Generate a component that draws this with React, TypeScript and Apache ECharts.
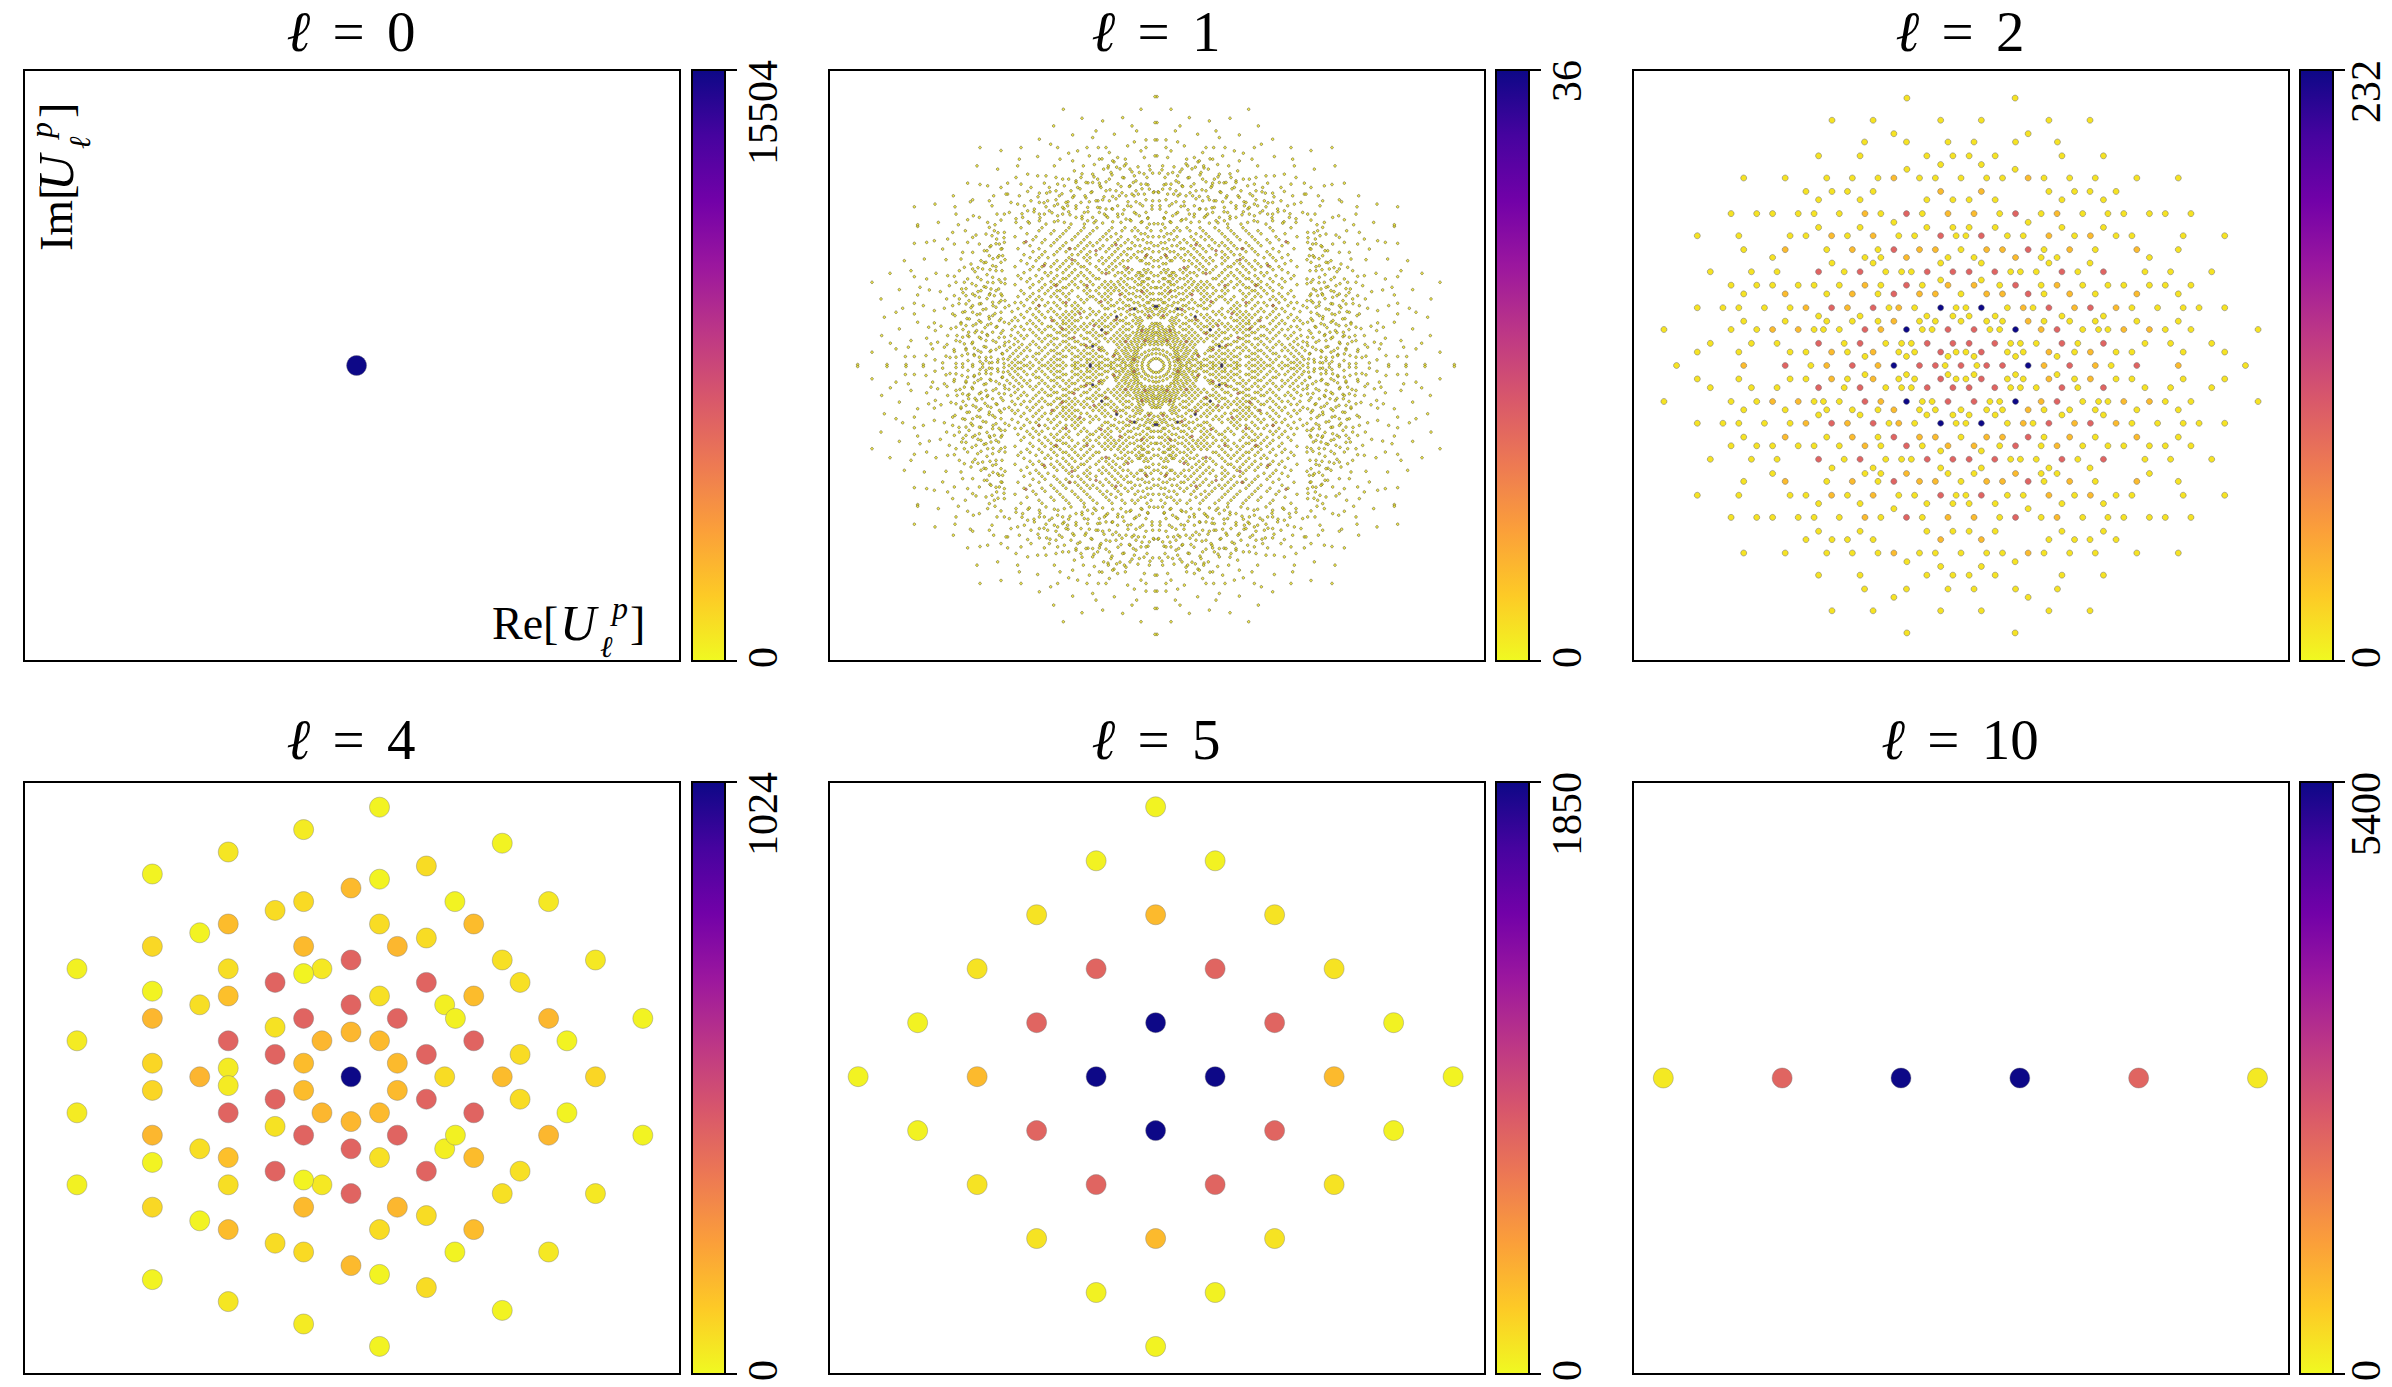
import React, { useEffect, useRef } from "react";
import * as echarts from "echarts";

const FONT = "Liberation Serif";
const plasmaReversed = ["#f0f921","#fdca26","#fb9f3a","#ed7953","#d8576b","#bd3786","#9c179e","#7201a8","#46039f","#0d0887"];

const titles = ["0", "1", "2", "4", "5", "10"];
const barMaxima = [15504, 36, 232, 1024, 1850, 5400];

// l = 0
const l0X = [0.014];
const l0Y = [0];
const l0V = [15504];

// l = 10
const l10X = [-5, -3, -1, 1, 3, 5];
const l10Y = [0, 0, 0, 0, 0, 0];
const l10V = [200, 2160, 5400, 5400, 2160, 200];

// l = 5 : rows of [y, x list, value list]
const l5Rows: [number, number[], number[]][] = [
  [5, [0], [25]],
  [4, [-1, 1], [30, 30]],
  [3, [-2, 0, 2], [95, 280, 95]],
  [2, [-3, -1, 1, 3], [95, 740, 740, 95]],
  [1, [-4, -2, 0, 2, 4], [30, 740, 1850, 740, 30]],
  [0, [-5, -3, -1, 1, 3, 5], [25, 280, 1850, 1850, 280, 25]],
  [-1, [-4, -2, 0, 2, 4], [30, 740, 1850, 740, 30]],
  [-2, [-3, -1, 1, 3], [95, 740, 740, 95]],
  [-3, [-2, 0, 2], [95, 280, 95]],
  [-4, [-1, 1], [30, 30]],
  [-5, [0], [25]],
];

// l = 4 : upper half, mirrored in Im. [Re, Im, value]
const l4Upper: number[][] = [
  [56,674,14],[-93,618,35],[297,584,14],[-241,562,45],[-390,507,14],[148,527,70],[56,494,14],[0,472,155],
  [-93,438,75],[204,438,14],[388,438,40],[-149,416,70],[-297,360,14],[-241,382,150],[56,382,70],[241,382,150],
  [148,347,70],[-93,326,155],[91,326,165],[-390,326,80],[297,292,60],[480,292,40],[0,292,410],[-538,270,20],
  [-241,270,65],[-57,270,40],[-93,258,14],[148,236,410],[-149,236,410],[332,236,60],[-390,214,14],[56,202,60],
  [-241,202,140],[241,202,150],[-297,180,65],[184,180,25],[0,180,410],[-93,146,410],[91,146,410],[-390,146,165],
  [205,146,20],[388,146,165],[573,146,14],[-149,124,55],[0,112,165],[-538,90,35],[-241,90,410],[-57,90,165],
  [56,90,155],[241,90,410],[424,90,14],[332,56,70],[-149,56,410],[148,56,410],[-93,34,150],[91,34,155],
  [-390,34,85],[-241,22,35],
];
const l4Axis: number[][] = [[-297,0,170],[0,0,1024],[184,0,70],[297,0,150],[480,0,85]];

// l = 2 : one quadrant by row. [|Im|, yellow |Re|, orange |Re|, salmon |Re|, blue |Re|]
const l2Rows: [number, number[], number[], number[], number[]][] = [
  [676,[133],[],[],[]],
  [620,[317,216,50],[],[],[]],
  [586,[165],[],[],[]],
  [565,[237,134,32],[],[],[]],
  [530,[350,248,84,20],[],[],[]],
  [508,[50],[],[],[]],
  [496,[133],[],[],[]],
  [474,[534,432,330,267,204,102,63,0],[165],[],[]],
  [440,[381,317,279,216],[50],[],[]],
  [419,[350,248,84,20],[],[],[]],
  [384,[565,502,463,400,361,299,197,95],[236,32],[134],[]],
  [362,[165],[],[],[]],
  [349,[350,248,84,20],[],[],[]],
  [328,[648,546,420,381,279,153,114,12],[318,216],[50],[]],
  [293,[534,330,204,0],[432,267,102,63],[165],[]],
  [273,[463,236,197,32],[134],[],[]],
  [259,[317,216,50],[],[],[]],
  [237,[616,515,452,287,185,146,122],[],[350,248,83,20],[]],
  [216,[50],[],[],[]],
  [203,[565,502,463,400,361,299,197,95],[236,32],[134],[]],
  [181,[534,330,204,0],[432,267,102,63],[165],[]],
  [146,[648,585,546,483,420,177,114,12],[381,279,153],[318,216],[50]],
  [125,[350,248,84,20],[],[],[]],
  [112,[534,432,330,267,204,102,63,0],[165],[],[]],
  [91,[730,565,502,361,338,299,95,71],[463,400,197],[236,32],[134]],
  [56,[616,515,452,287,185,146,122],[],[350,248,83,20],[]],
  [34,[648,546,420,381,279,153,114,12],[318,216],[50],[]],
  [23,[236,134,32],[],[],[]],
  [0,[699,369,39],[534,330,204],[432,267,102,63,0],[165]],
];
const l2Levels = [12, 35, 93, 232];

// l = 1 : one quadrant, in thirds of a reference pixel from the centre.
const l1Rings = [24,0,21,9,15,15,8,20,0,21,42,0,41,9,37,18,31,26,23,31,12,35,0,36,57,0,55,12,51,24,43,33,33,40,21,45,9,48,0,50];
const l1Blue = [197,3,190,58,163,107,118,147,65,170,3,178];
const l1Red = [66,18,126,30,33,75,171,48,90,72,210,60,246,84,150,96,42,105,186,120,282,111,120,138,21,150,228,156,312,135,78,168,165,192,270,189,108,213,42,222,351,180,207,240,300,240,150,276,84,294,252,318,30,330,336,300,180,345,258,351,120,363,390,372];
const l1CoreRows: [number, number[]][] = [
  [0,[72,81,90,108,117,135,144,153,171,180,198,216,225,243,252,270,288,297,315,333,342,369,387,396,423,441]],
  [9,[66,75,93,102,126,135,162,171,189,207,234,243,279,306,324,351,378,405,414,432]],
  [18,[63,72,84,99,111,120,144,153,180,198,207,225,252,288,297,315,342,360,396,423,444]],
  [27,[60,69,78,90,108,129,162,171,189,216,234,243,270,279,306,333,369,387,414,438]],
  [36,[57,66,84,96,114,123,147,180,198,207,225,252,288,297,324,351,360,405,429]],
  [45,[54,63,75,90,102,120,156,165,189,216,234,261,279,306,315,342,378,396,420,447]],
  [54,[45,54,66,81,93,111,162,171,198,207,243,252,270,297,333,351,387,411,438]],
  [63,[6,18,33,42,57,72,84,102,117,180,189,216,225,261,288,306,324,360,378,402,426]],
  [72,[3,15,24,36,51,63,75,93,108,126,144,171,198,234,243,270,279,315,342,369,414,441]],
  [81,[9,21,30,42,54,66,84,99,117,135,153,180,207,216,252,261,297,306,333,351,396,423]],
  [90,[6,15,27,39,48,60,78,90,108,126,162,171,189,225,270,279,315,324,360,387,405,435]],
  [99,[3,12,24,33,45,57,69,99,117,144,153,180,198,207,243,261,288,297,342,369,414]],
  [108,[9,21,30,42,54,81,90,108,135,162,189,216,234,252,270,279,306,333,351,378,396,432]],
  [117,[6,18,39,51,72,99,126,144,153,171,207,225,243,261,288,315,324,360,405,423]],
  [126,[3,12,48,60,81,90,117,135,162,180,198,216,252,270,279,297,342,369,387,441]],
  [135,[42,54,69,99,108,126,153,171,189,234,243,261,279,306,351,378,414,432]],
  [144,[15,24,48,60,90,117,144,162,207,225,252,270,288,315,333,360,396,423]],
  [153,[6,33,66,78,105,135,153,180,198,243,261,279,297,342,369,405]],
  [162,[12,24,42,54,87,123,171,189,216,234,252,270,306,324,351,387,432]],
  [171,[3,18,30,60,72,99,111,144,153,198,225,243,288,315,360,378,414]],
  [180,[9,36,48,81,90,126,135,162,234,252,270,297,333,351,396,441]],
  [189,[21,27,54,66,99,117,144,171,216,243,279,306,324,369,405,423]],
  [198,[6,15,39,75,84,108,135,153,180,207,225,261,288,342,360,387]],
  [207,[27,48,60,93,144,162,189,198,234,270,297,315,351,378,414]],
  [216,[9,18,36,69,81,102,135,153,171,207,261,279,306,333,369,396]],
  [225,[27,45,57,90,111,126,144,180,198,216,252,288,297,324,351,405]],
  [234,[3,15,36,66,78,99,120,135,153,171,207,234,270,279,315,342,378]],
  [243,[24,45,54,87,108,126,144,162,189,216,243,261,297,306,333,369,423]],
  [252,[9,36,42,63,96,114,135,153,198,225,252,288,315,351,387]],
  [261,[21,27,51,72,84,105,171,180,207,243,270,279,306,342,378,405]],
  [270,[6,39,45,60,93,123,189,216,234,261,297,324,360,414]],
  [279,[15,30,48,54,81,102,114,141,162,198,225,252,279,315,333,396]],
  [288,[24,36,72,90,129,150,171,207,243,270,297,351,378]],
  [297,[9,96,120,141,180,216,225,261,288,315,342,369,423]],
  [306,[21,30,108,132,159,198,234,252,279,306,333,387]],
  [315,[6,42,48,84,99,123,150,171,207,243,270,297,360,405]],
  [324,[15,33,57,75,114,141,162,198,216,261,324,351,378]],
  [333,[27,66,87,105,132,180,207,234,252,306,342,396]],
  [342,[9,42,54,96,123,150,198,225,270,297,333,369]],
  [351,[21,33,75,84,114,141,168,216,243,261,288,351,414]],
  [360,[6,48,63,105,132,159,189,207,234,279,315,378]],
  [369,[15,27,72,93,123,177,198,225,270,306,342,396]],
  [378,[39,54,84,114,147,168,216,252,297,333,369]],
  [387,[9,24,63,105,135,159,207,243,288,360,423]],
  [396,[33,45,120,150,198,234,279,315,387]],
  [405,[15,54,72,102,141,189,225,270,306,351]],
  [414,[27,63,93,132,177,216,261,342,405]],
];
const l1Annulus = [456,6,474,18,492,9,510,24,528,12,546,33,564,15,582,30,600,6,618,24,462,36,480,48,498,42,516,57,534,45,552,66,570,51,588,72,606,48,627,63,453,69,471,84,489,75,507,93,525,81,543,99,561,87,579,108,597,90,615,111,459,105,477,117,495,126,513,114,531,135,549,120,567,141,585,129,603,150,465,141,483,156,501,147,519,168,537,153,555,174,573,162,591,186,453,174,471,189,489,180,507,201,525,186,543,210,561,195,579,219,462,210,480,225,498,216,516,237,534,222,552,246,570,231,453,246,471,258,489,249,507,273,525,258,543,282,462,285,480,297,498,288,516,309,534,294,453,318,471,330,489,321,507,345,462,351,480,366,498,357,456,384,474,399,492,390,6,426,24,444,42,432,60,456,78,438,96,468,114,447,132,471,150,450,168,474,186,429,204,462,222,441,240,480,258,453,276,471,294,435,312,459,330,477,348,444,366,462,384,432,402,456,420,441,12,480,30,498,48,486,66,510,84,492,102,519,120,501,138,528,156,507,174,495,192,522,210,504,228,531,246,510,264,492,282,516,300,498,318,522,336,489,354,507,6,522,24,543,42,531,60,555,78,540,96,564,114,546,132,573,150,552,168,540,186,567,204,549,222,576,240,555,18,588,36,576,54,597,72,582,90,606,108,591,126,612,144,594,162,621];
const l1RightOrigin = [450, 0];
const l1Right = [402,250,348,277,285,285,238,260,210,277,175,270,150,250,115,260,155,268,90,240,60,235,22,230,15,250,3,260,40,265,133,230,170,240,197,222,230,227,258,235,320,228,275,267,375,200,265,212,178,200,155,210,140,200,120,210,80,205,75,225,50,212,35,210,15,195,3,195,40,190,100,180,80,185,160,180,185,172,215,165,248,180,275,187,310,172,330,160,365,145,275,155,265,130,232,115,215,128,195,118,160,155,150,115,110,140,78,155,40,150,15,160,5,130,30,115,55,122,88,105,72,100,112,100,135,125,175,90,212,105,320,110,373,90,285,75,238,82,205,70,225,65,150,75,125,65,115,90,80,85,55,90,15,97,30,70,60,55,95,52,120,47,155,42,185,55,220,50,293,55,347,67,330,50,402,40,240,30,275,27,302,27,180,28,150,25,115,35,80,25,45,25,10,35,50,8,70,5,100,3,130,5,190,8,213,17,248,3,300,3,357,3,445,3,305,315,245,320,180,318,140,285,125,295,100,290,70,290,40,300,15,310,75,315,25,325,65,345,130,340,190,350,45,360,15,350,5,370,80,365,115,370,155,365,175,380,215,375,238,370,275,367,90,392,28,380,60,395,35,405,122,405,160,400,265,418,50,415,8,20,25,10,60,15,75,40,95,30,5,60,20,55,45,45,100,70,130,85,5,85,40,100,60,75,90,125,120,120,20,135,50,140,75,130,100,160,130,160,30,175,60,170,120,185,15,215,45,230,100,215,125,250,55,250,85,265,30,285,60,310,105,305,135,320,10,330,50,330,100,340,20,365,100,385,5,400];
const l1BottomOrigin = [0, 420];
const l1Bottom = [3,388,45,350,278,350,100,325,160,315,222,323,3,310,72,300,307,300,58,285,180,285,125,275,250,273,350,260,190,265,30,258,65,252,3,258,85,240,30,235,150,235,173,235,207,235,295,235,316,245,405,235,140,220,235,225,262,218,200,210,35,205,3,210,92,200,130,195,250,195,288,200,355,208,410,200,305,180,185,184,218,180,143,180,118,176,95,180,78,170,20,180,415,180,245,165,135,160,157,170,190,155,10,158,65,150,27,145,100,145,140,140,225,145,262,140,280,140,300,145,355,150,385,155,420,145,210,130,170,128,190,130,45,125,80,118,105,118,68,130,275,120,295,125,335,128,405,125,445,128,30,125,8,100,35,95,53,95,72,95,90,90,110,90,130,88,150,105,165,115,213,90,235,115,255,105,290,90,328,98,320,115,350,98,385,103,410,90,445,95,140,75,160,78,180,75,200,72,225,70,250,85,270,70,295,65,325,75,375,75,435,70,60,72,40,60,10,75,75,58,115,60,130,50,175,55,205,55,240,52,265,60,305,60,320,45,335,35,365,50,385,45,440,40,12,50,65,40,100,35,155,35,190,25,222,28,262,42,280,35,400,25,350,15,305,12,275,10,215,5,160,8,105,10,75,15,25,22,45,10,130,12,180,15,255,5,330,5,380,8,420,10,20,5,50,30,90,20,115,35,145,25,170,40,205,15,240,25,295,30,350,35,395,60,30,40,85,60,150,50,215,40,280,55,350,70,415,65,120,105,195,100,300,105,20,110,60,105,240,130,330,150,375,115,175,140,50,160,115,205,170,200,45,225];
const l1CornerOrigin = [450, 420];
const l1Corner = [15,17,5,35,27,35,33,3,55,10,80,25,98,30,115,18,143,3,150,35,203,10,265,3,42,60,50,75,100,78,107,72,153,57,213,65,275,57,158,90,37,90,0,95,15,115,55,120,78,124,115,128,25,170,87,180,15,226,78,235];

const mirror4 = (x: number, y: number, v: number): number[][] => {
  const out = [[x, y, v]];
  if (x !== 0) out.push([-x, y, v]);
  if (y !== 0) out.push([x, -y, v]);
  if (x !== 0 && y !== 0) out.push([-x, -y, v]);
  return out;
};
const flatPairs = (list: number[], origin: number[], v: number): number[][] => {
  const out: number[][] = [];
  for (let i = 0; i < list.length; i += 2) out.push(...mirror4(list[i] + origin[0], list[i + 1] + origin[1], v));
  return out;
};

const l1Data: number[][] = [
  ...flatPairs(l1Rings, [0, 0], 1),
  ...l1CoreRows.flatMap(([y, xs]) => xs.flatMap((x) => mirror4(x, y, 1))),
  ...flatPairs(l1Annulus, [0, 0], 1),
  ...flatPairs(l1Right, l1RightOrigin, 1),
  ...flatPairs(l1Bottom, l1BottomOrigin, 1),
  ...flatPairs(l1Corner, l1CornerOrigin, 1),
  ...flatPairs(l1Red, [0, 0], 14),
  ...flatPairs(l1Blue, [0, 0], 36),
];
const l2Data: number[][] = l2Rows.flatMap(([y, ...groups]) =>
  (groups as number[][]).flatMap((xs, k) => xs.flatMap((x) => mirror4(x, y, l2Levels[k])))
);
const l4Data: number[][] = [
  ...l4Upper.flatMap(([x, y, v]) => [[x, y, v], [x, -y, v]]),
  ...l4Axis,
];
const l5Data: number[][] = l5Rows.flatMap(([y, xs, vs]) => xs.map((x, i) => [x, y, vs[i]]));
const l0Data = l0X.map((x, i) => [x, l0Y[i], l0V[i]]);
const l10Data = l10X.map((x, i) => [x, l10Y[i], l10V[i]]);

const panelData = [l0Data, l1Data, l2Data, l4Data, l5Data, l10Data];
const xRanges = [[-1, 1], [-981, 987], [-806, 806], [-642, 646], [-5.49, 5.536], [-5.51, 5.53]];
const yRanges = [[-1, 1], [-888, 888], [-747, 747], [-743, 737], [-5.51, 5.46], [-5.5, 5.5]];
const symbolSizes = [20, 2.6, 6, 20, 20, 20];

const colLeft = [24, 829, 1633];
const colW = 656;
const barLeft = [692, 1496, 2300];
const barW = 33;
const labelGap = [38, 38, 33];
const rowTop = [70, 782];
const rowH = [591, 592];
const titleY = [-2, 706];

const piece = (text: string, x: number, y: number, size: number, italic = false) => ({
  type: "text", x, y,
  style: { text, fontFamily: FONT, fontSize: size, fontStyle: italic ? "italic" : "normal", fill: "#000", align: "left", verticalAlign: "middle" },
});

export default function App() {
  const ref = useRef<HTMLDivElement>(null);
  useEffect(() => {
    document.body.style.margin = "0";
    const chart = echarts.init(ref.current!, null, { renderer: "svg" });
    const grid: any[] = [], xAxis: any[] = [], yAxis: any[] = [], series: any[] = [], visualMap: any[] = [], title: any[] = [];
    const graphic: any[] = [];
    const last = plasmaReversed.length - 1;
    const stops = plasmaReversed.map((_, i) => ({ offset: i / last, color: plasmaReversed[last - i] }));
    panelData.forEach((data, i) => {
      const col = i % 3, row = Math.floor(i / 3);
      grid.push({ show: true, left: colLeft[col], top: rowTop[row], width: colW, height: rowH[row], borderColor: "#000", borderWidth: 2, backgroundColor: "#fff" });
      xAxis.push({ gridIndex: 2 * i, type: "value", show: false, min: xRanges[i][0], max: xRanges[i][1] });
      yAxis.push({ gridIndex: 2 * i, type: "value", show: false, min: yRanges[i][0], max: yRanges[i][1] });
      grid.push({
        show: true, left: barLeft[col], top: rowTop[row], width: barW, height: rowH[row], borderColor: "#000", borderWidth: 2,
        backgroundColor: new echarts.graphic.LinearGradient(0, 0, 0, 1, stops),
      });
      xAxis.push({ gridIndex: 2 * i + 1, type: "value", show: false, min: 0, max: 1 });
      yAxis.push({ gridIndex: 2 * i + 1, type: "value", show: false, min: 0, max: barMaxima[i] });
      series.push({
        type: "scatter", xAxisIndex: 2 * i, yAxisIndex: 2 * i, data, symbol: "circle", symbolSize: symbolSizes[i],
        progressive: 0, large: false, silent: true,
        itemStyle: i === 1
          ? { borderColor: "rgba(85,75,25,0.7)", borderWidth: 1, opacity: 0.78 }
          : i === 2
          ? { borderColor: "rgba(110,110,110,0.5)", borderWidth: 1, opacity: 1 }
          : { borderColor: "rgba(120,120,120,0.4)", borderWidth: 1, opacity: 1 },
      });
      visualMap.push({ show: false, type: "continuous", seriesIndex: i, dimension: 2, min: 0, max: barMaxima[i], inRange: { color: plasmaReversed } });
      const base = { fontFamily: FONT, fontSize: 57, color: "#000" };
      title.push({
        text: `{i|ℓ} {e|=} {d|${titles[i]}}`, left: colLeft[col] + colW / 2 - 6, top: titleY[row], textAlign: "center",
        textStyle: { ...base, fontWeight: "normal", rich: { i: { ...base, fontStyle: "italic" }, e: { ...base, padding: [0, 8, 0, 8] }, d: { ...base } } },
      });
      const barRight = barLeft[col] + barW;
      const labelX = barRight + labelGap[col];
      const labelFor = (text: string, y: number) => ({
        type: "text", x: labelX, y, rotation: Math.PI / 2,
        style: { text, fontFamily: FONT, fontSize: 42, fill: "#000", align: "right", verticalAlign: "middle" },
      });
      const tickAt = (y: number) => ({
        type: "line", shape: { x1: barRight, y1: y, x2: barRight + 12, y2: y }, style: { stroke: "#000", lineWidth: 2 },
      });
      graphic.push(
        tickAt(rowTop[row]), tickAt(rowTop[row] + rowH[row]),
        labelFor(String(barMaxima[i]), rowTop[row] - 10), labelFor("0", rowTop[row] + rowH[row] - 14)
      );
    });
    graphic.push({
      type: "group", x: 492, y: 638,
      children: [piece("Re[", 0, -15, 46), piece("U", 68, -15, 50, true), piece("p", 120, -30, 32, true), piece("ℓ", 108, 8, 30, true), piece("]", 138, -15, 46)],
    });
    graphic.push({
      type: "group", x: 71, y: 251, rotation: Math.PI / 2,
      children: [piece("Im[", 0, -15, 46), piece("U", 60, -15, 50, true), piece("p", 113, -30, 32, true), piece("ℓ", 102, 8, 30, true), piece("]", 133, -15, 46)],
    });
    chart.setOption({ animation: false, backgroundColor: "#fff", title, grid, xAxis, yAxis, series, visualMap, graphic, tooltip: { show: false } });
    return () => chart.dispose();
  }, []);
  return <div ref={ref} style={{ position: "absolute", left: 0, top: 0, width: 2392, height: 1387 }} />;
}
